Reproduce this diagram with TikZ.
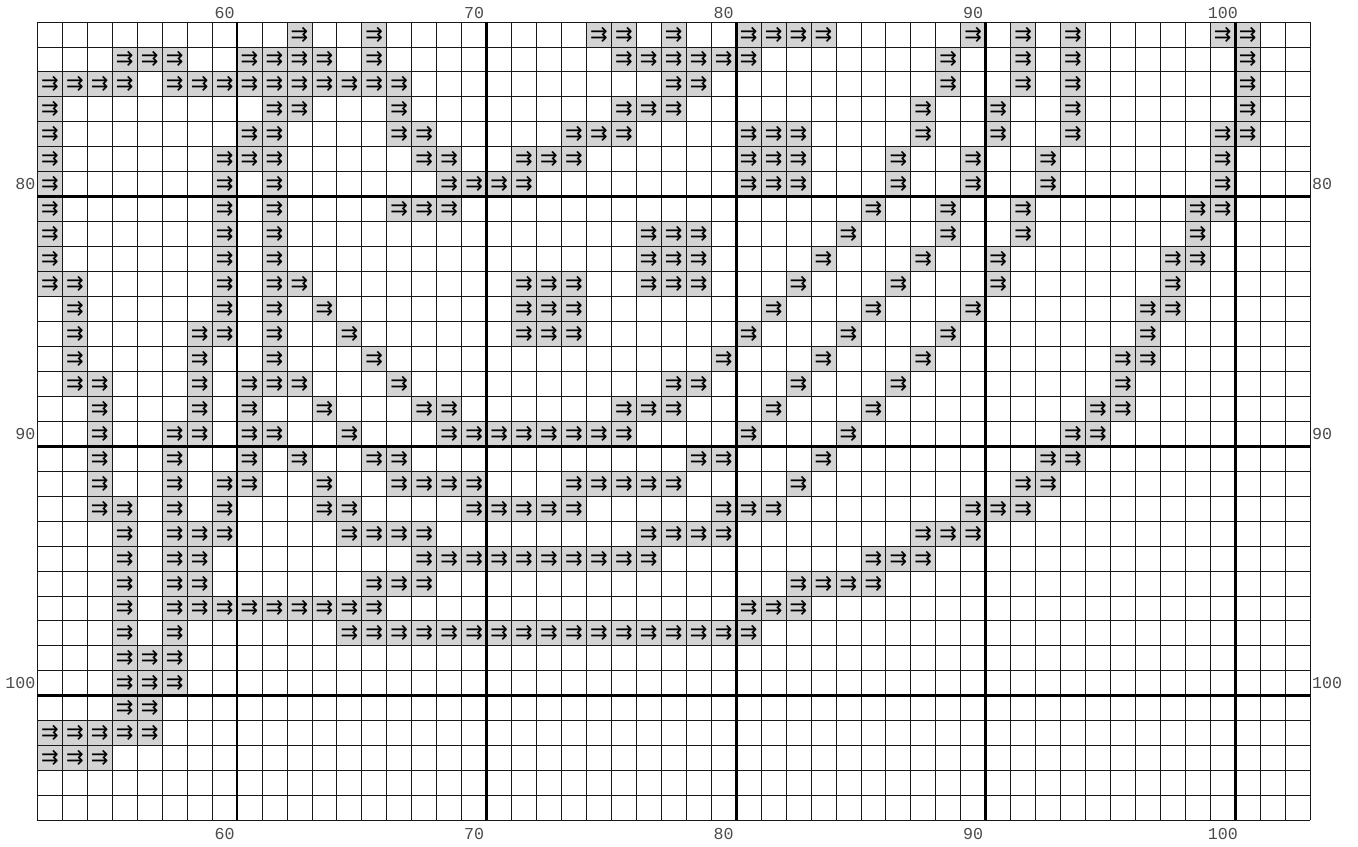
\documentclass[tikz,border=0pt]{standalone}
\usepackage{fontspec}
\usepackage{xcolor}
\usepackage{tikz}
\newfontfamily\arrowfont{DejaVu Sans}
\newfontfamily\numberfont{Liberation Mono}
\definecolor{stitchgray}{HTML}{D3D3D3}
\tikzset{
  stitch/.style={fill=stitchgray, minimum size=0.5cm, inner sep=0pt,
    font=\arrowfont\fontsize{12}{12}\selectfont},
  thinline/.style={line width=0.45pt, black!90},
  thickline/.style={line width=1.6pt, black},
  rulenum/.style={font=\numberfont\fontsize{9.5}{9.5}\selectfont, text=black!70, inner sep=1pt}
}

\begin{document}
\begin{tikzpicture}[x=0.5cm, y=-0.5cm]

  \useasboundingbox (-1.5,-0.88) rectangle (52.92,33.03);

  \foreach \row/\cols in {
    0/{10,13,22,23,25,28,29,30,31,37,39,41,47,48},
    1/{3,4,5,8,9,10,11,13,23,24,25,26,27,28,36,39,41,48},
    2/{0,1,2,3,5,6,7,8,9,10,11,12,13,14,25,26,36,39,41,48},
    3/{0,9,10,14,23,24,25,35,38,41,48},
    4/{0,8,9,14,15,21,22,23,28,29,30,35,38,41,47,48},
    5/{0,7,8,9,15,16,19,20,21,28,29,30,34,37,40,47},
    6/{0,7,9,16,17,18,19,28,29,30,34,37,40,47},
    7/{0,7,9,14,15,16,33,36,39,46,47},
    8/{0,7,9,24,25,26,32,36,39,46},
    9/{0,7,9,24,25,26,31,35,38,45,46},
    10/{0,1,7,9,10,19,20,21,24,25,26,30,34,38,45},
    11/{1,7,9,11,19,20,21,29,33,37,44,45},
    12/{1,6,7,9,12,19,20,21,28,32,36,44},
    13/{1,6,9,13,27,31,35,43,44},
    14/{1,2,6,8,9,10,14,25,26,30,34,43},
    15/{2,6,8,11,15,16,23,24,25,29,33,42,43},
    16/{2,5,6,8,9,12,16,17,18,19,20,21,22,23,28,32,41,42},
    17/{2,5,8,10,13,14,26,27,31,40,41},
    18/{2,5,7,8,11,14,15,16,17,21,22,23,24,25,30,39,40},
    19/{2,3,5,7,11,12,17,18,19,20,21,27,28,29,37,38,39},
    20/{3,5,6,7,12,13,14,15,24,25,26,27,35,36,37},
    21/{3,5,6,15,16,17,18,19,20,21,22,23,24,33,34,35},
    22/{3,5,6,13,14,15,30,31,32,33},
    23/{3,5,6,7,8,9,10,11,12,13,28,29,30},
    24/{3,5,12,13,14,15,16,17,18,19,20,21,22,23,24,25,26,27,28},
    25/{3,4,5},
    26/{3,4,5},
    27/{3,4},
    28/{0,1,2,3,4},
    29/{0,1,2}} {
    \foreach \col in \cols {
      \node[stitch] (s-\row-\col) at (\col+0.5,\row+0.5) {⇉};
    }
  }

  \foreach \k in {0,...,51}
    \draw[thinline] (\k,0) -- (\k,32);
  \foreach \k in {0,...,32}
    \draw[thinline] (0,\k) -- (51,\k);
  \foreach \k in {8,18,28,38,48}
    \draw[thickline] (\k,0) -- (\k,32);
  \foreach \k in {7,17,27}
    \draw[thickline] (0,\k) -- (51,\k);

  \foreach \col/\lab in {7/60,17/70,27/80,37/90,47/100} {
    \node[rulenum] (top-\lab) at (\col+0.5,-0.36) {\lab};
    \node[rulenum] (bottom-\lab) at (\col+0.5,32.55) {\lab};
  }
  \foreach \row/\lab in {6/80,16/90,26/100} {
    \node[rulenum, anchor=east] (left-\lab) at (0,\row+0.5) {\lab};
    \node[rulenum, anchor=west] (right-\lab) at (51,\row+0.5) {\lab};
  }

\end{tikzpicture}
\end{document}
